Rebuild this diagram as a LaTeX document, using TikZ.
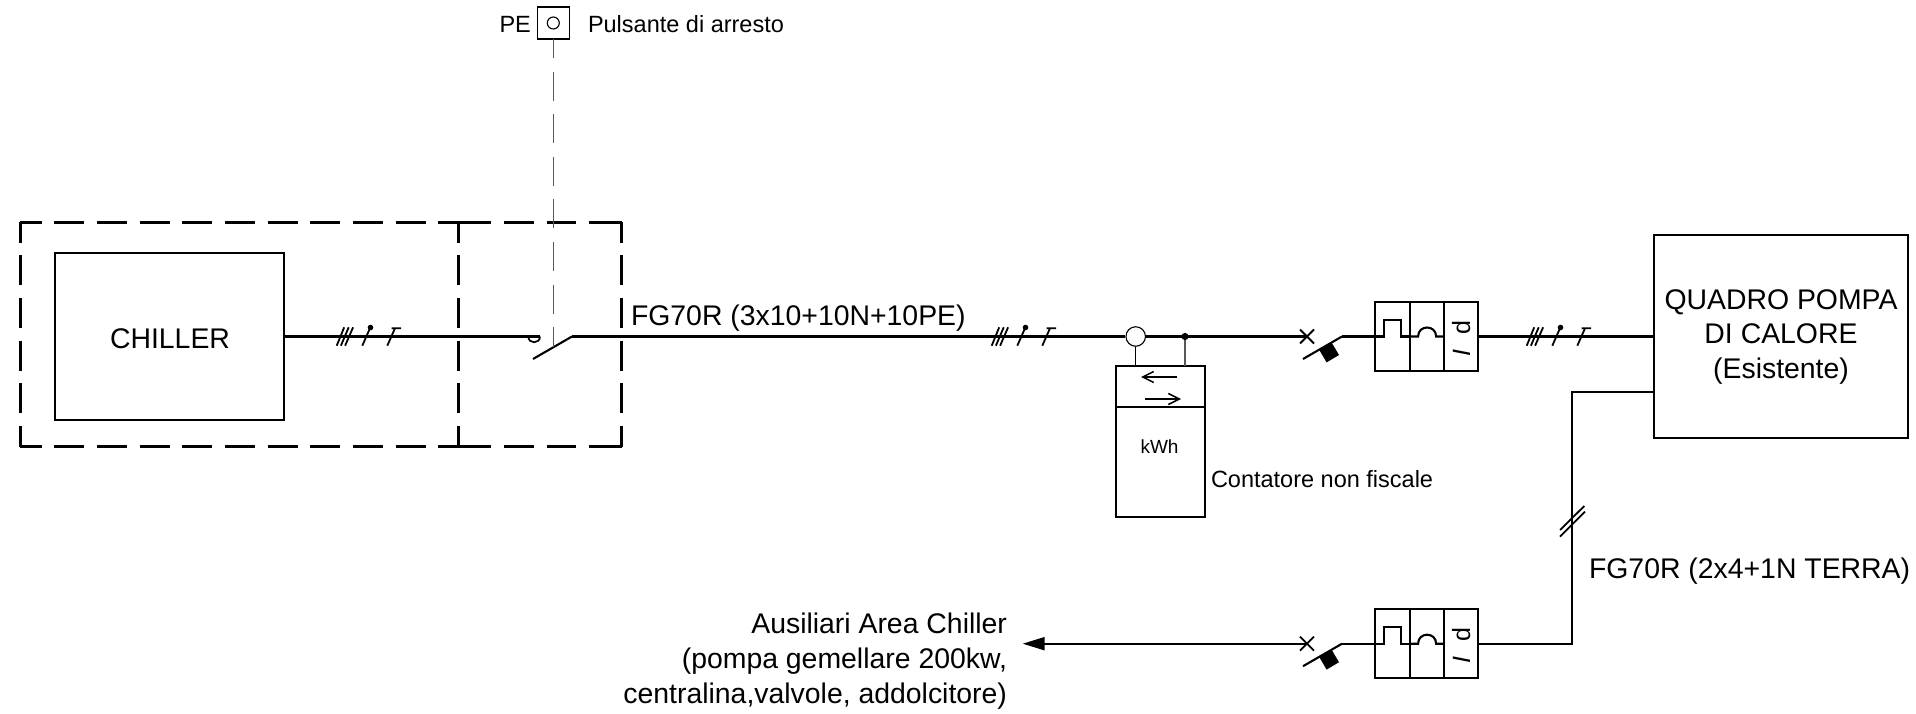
\documentclass[tikz,border=0pt]{standalone}
\usepackage{fontspec}
\setmainfont{Liberation Sans}
\usetikzlibrary{arrows.meta}
\newcommand{\fsz}[1]{\fontsize{#1}{#1}\selectfont}
\tikzset{
  wire/.style={line width=2.1pt,black,line cap=butt},
  fence/.style={line width=2.6pt,black},
  vfence/.style={fence,dash pattern=on 30pt off 12.67pt,dash phase=9.6pt},
  hfence/.style={fence,dash pattern=on 30pt off 12.67pt,dash phase=8.6pt},
  rfence/.style={fence,dash pattern=on 32.7pt off 13pt on 29.7pt off 13.3pt on 29.3pt off 12.7pt on 33pt off 50pt},
  ctrl/.style={line width=1.3pt,black!65},
  cellbox/.style={draw,line width=2pt,inner sep=0pt,outer sep=0pt,minimum width=34.3pt,minimum height=68.7pt},
  block/.style={draw,line width=2pt,inner sep=0pt,outer sep=0pt,align=center,font=\fsz{28.4}},
  lab/.style={inner sep=0pt,outer sep=0pt,anchor=base west,font=\fsz{28.4}},
  labs/.style={inner sep=0pt,outer sep=0pt,anchor=base west,font=\fsz{23.5}},
  wireticks/.pic={
    \draw[line width=1.8pt] (0,9.2) -- (7.5,-9.2) (4.2,9.2) -- (12,-9.2) (8.4,9.2) -- (16.4,-9.2);
    \draw[line width=1.8pt] (25.6,9.2) -- (33.4,-8.5);
    \fill (33.8,-9) circle[radius=2.8pt];
    \draw[line width=1.8pt] (50.6,9.2) -- (58.3,-8.2) (55,-8.2) -- (64.3,-8.2);
  },
  breakerpic/.pic={
    \draw[line width=1.8pt] (-7,-7) -- (7,7) (-7,7) -- (7,-7);
    \draw[line width=2.1pt] (-4,22.5) -- (35,0);
    \fill (12.3,13.5) -- (24.7,6.2) -- (32,18.5) -- (19.6,25.9) -- cycle;
  },
}
\newcommand{\relaycells}[3]{% name, x of left edge, y of centre
  \node[cellbox] (#1a) at ({#2+17.15},#3) {};
  \node[cellbox,anchor=west] (#1b) at (#1a.east) {};
  \node[cellbox,anchor=west] (#1c) at (#1b.east) {};
  \draw[wire,line join=miter] (#1a.west) -- ++(9,0) -- ++(0,-16.5) -- ++(17,0) -- ++(0,16.5) -- (#1a.east);
  \draw[wire] (#1b.west) -- ++(8.5,0) .. controls +(0,-12) and +(0,-12) .. ++(18,0) -- (#1b.east);
  \node[rotate=90,inner sep=0pt,font=\fsz{25}] (#1t) at ([yshift=-2pt]#1c.center) {\textit{I}\hspace{15pt}d};
}
\begin{document}
\begin{tikzpicture}[x=1pt,y=-1pt]
\useasboundingbox (0,0) rectangle (1916,714);
% fences
\draw[hfence] (20.3,222.3) -- (458.3,222.3);
\draw[hfence] (20.3,446.7) -- (458.3,446.7);
\draw[vfence] (20.3,222.3) -- (20.3,446.7);
\draw[vfence] (458.3,222.3) -- (458.3,446.7);
\draw[vfence] (621.7,222.3) -- (621.7,446.7);
\draw[rfence] (458.3,222.3) -- (621.7,222.3);
\draw[rfence] (458.3,446.7) -- (621.7,446.7);
% blocks
\node[block,minimum width=228.7pt,minimum height=166.7pt] (chiller) at (169.3,336.6) {};
\node[lab,anchor=base] (chillertxt) at (170,348.5) {CHILLER};
\node[block,minimum width=254pt,minimum height=203.5pt] (quadro) at (1781,336.6) {};
\node[lab,anchor=base] (q1) at (1781,309.5) {QUADRO POMPA};
\node[lab,anchor=base] (q2) at (1781,343.7) {DI CALORE};
\node[lab,anchor=base] (q3) at (1781,378) {(Esistente)};
% stop button
\node[draw,line width=1.3pt,inner sep=0pt,outer sep=0pt,minimum size=32pt] (pe) at (553.3,23) {};
\node[draw,circle,line width=1.1pt,inner sep=0pt,minimum size=12pt] (peo) at (pe.center) {};
\node[labs] (petxt) at (499.5,32.5) {PE};
\node[labs] (pulstxt) at (588,32.5) {Pulsante di arresto};
% switch
\coordinate (hook) at (540,336.5);
\coordinate (swa) at (533,359);
\coordinate (swb) at (572,336.5);
\coordinate (swc) at (553.3,346.5);
\draw[wire] (chiller.east |- hook) -- (hook);
\draw[line width=1.7pt] (528.3,336.5) .. controls +(0,7.7) and +(0,7.7) .. (hook);
\draw[wire] (swa) -- (swb);
\draw[ctrl,dash pattern=on 29pt off 13.6pt,dash phase=10pt] (pe.south) -- (swc);
% current transformer and meter
\node[draw,circle,fill=white,line width=1.1pt,inner sep=0pt,minimum size=19.5pt] (ct) at (1135.7,336.5) {};
\coordinate (tap) at (1185,336.5);
\node[draw,line width=2pt,inner sep=0pt,outer sep=0pt,minimum width=89.3pt,minimum height=40.7pt] (mtop) at (1160.3,386.3) {};
\node[draw,line width=2pt,inner sep=0pt,outer sep=0pt,minimum width=89.3pt,minimum height=110pt,anchor=north] (mbot) at (mtop.south) {};
\node[inner sep=0pt,font=\fsz{19},anchor=base] (kwh) at (1159.5,453) {kWh};
\node[labs] (cont) at (1211,487.5) {Contatore non fiscale};
\draw[line width=1.5pt] (ct.south) -- (ct.south |- mtop.north);
\draw[line width=1.5pt,black!65] (tap) -- (tap |- mtop.north);
\fill (tap) circle[radius=3.6pt];
\draw[line width=1.5pt,-{Straight Barb[length=11pt,width=11pt]}] (1177,377) -- (1141,377);
\draw[line width=1.5pt,-{Straight Barb[length=11pt,width=11pt]}] (1145,399) -- (1181,399);
% main line
\coordinate (brk1) at (1307,336.5);
\coordinate (brk1out) at (1342,336.5);
\draw[wire] (swb) -- (ct.west);
\draw[wire] (ct.east) -- (brk1);
\pic at (brk1) {breakerpic};
\relaycells{ra}{1375.3}{336.5}
\draw[wire] (brk1out) -- (raa.west);
\draw[wire] (rac.east) -- (quadro.west |- rac.east);
\node[lab] (fg1) at (631,325) {FG70R (3x10+10N+10PE)};
\pic at (336.7,336.5) {wireticks};
\pic at (991.7,336.5) {wireticks};
\pic at (1526.7,336.5) {wireticks};
% auxiliaries branch
\coordinate (brk2) at (1307,643.7);
\coordinate (brk2out) at (1342,643.7);
\coordinate (auxtip) at (1022.7,643.7);
\coordinate (corner) at (1572.3,392.3);
\pic at (brk2) {breakerpic};
\relaycells{rb}{1375.3}{643.7}
\draw[wire] (brk2out) -- (rba.west);
\draw[wire,line join=miter] (rbc.east) -| (corner) -- (quadro.west |- corner);
\draw[wire,{Triangle[length=22pt,width=13pt]}-] (auxtip) -- (brk2);
\draw[line width=1.8pt] (1560,530) -- (1584.3,506) (1560,536.7) -- (1585,511.7);
\node[lab] (fg2) at (1589,578) {FG70R (2x4+1N TERRA)};
\node[lab,anchor=base east] (a1) at (1007,633) {Ausiliari Area Chiller};
\node[lab,anchor=base east] (a2) at (1007,668) {(pompa gemellare 200kw,};
\node[lab,anchor=base east] (a3) at (1007,703) {centralina,valvole, addolcitore)};
\end{tikzpicture}
\end{document}
